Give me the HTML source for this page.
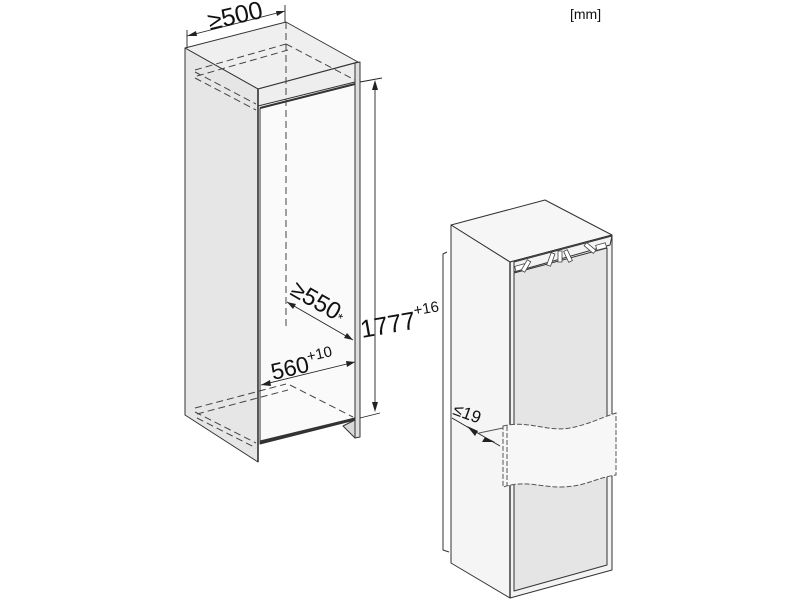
<!DOCTYPE html>
<html><head><meta charset="utf-8"><style>
html,body{margin:0;padding:0;background:#fff;width:800px;height:600px;overflow:hidden}
svg{display:block}
text{font-family:"Liberation Sans",sans-serif;fill:#111}
</style></head><body>
<svg width="800" height="600" viewBox="0 0 800 600" xmlns="http://www.w3.org/2000/svg">
<g stroke="#333" stroke-width="1" stroke-linejoin="round">
<polygon points="185,48 286,22 358,62 258,89" fill="#efefef"/>
<polygon points="185,48 258,89 258,462 185,415" fill="#e6e6e6"/>
<polygon points="355,63 360,62 360,437 355,438" fill="#dedede"/>
<polygon points="343,426 355,420 355,438" fill="#d8d8d8"/>
<polygon points="258,89 355,63 355,82 258,106" fill="#eeeeee"/>
<polygon points="260,108 355,84 355,418 260,443" fill="#fafafa"/>
<polygon points="260,441 355,418 355,420 260,444" fill="#333"/>
<line x1="258" y1="89" x2="258" y2="462" stroke-width="1.6"/>
<line x1="260" y1="108" x2="355" y2="84" stroke-width="2"/>
</g>
<g stroke="#444" stroke-width="1" stroke-dasharray="7,4" fill="none">
<line x1="286" y1="22" x2="286" y2="330"/>
<line x1="195" y1="70" x2="286" y2="44"/>
<line x1="197" y1="76" x2="288" y2="50"/>
<line x1="286" y1="44" x2="355" y2="80"/>
<line x1="195" y1="72" x2="256" y2="104"/>
<line x1="195" y1="78" x2="256" y2="110"/>
<line x1="195" y1="408" x2="286" y2="384"/>
<line x1="197" y1="414" x2="288" y2="390"/>
<line x1="290" y1="385" x2="353" y2="417"/>
<line x1="195" y1="412" x2="256" y2="443"/>
<line x1="197" y1="418" x2="256" y2="448"/>
</g>
<g stroke="#222" stroke-width="0.9" fill="none">
<line x1="187" y1="30" x2="187" y2="48"/>
<line x1="187" y1="36" x2="285" y2="11"/>
<line x1="285" y1="5" x2="285" y2="22"/>
<line x1="375" y1="82" x2="375" y2="410"/>
<line x1="360" y1="82" x2="382" y2="78"/>
<line x1="360" y1="418" x2="380" y2="413"/>
<line x1="287" y1="302" x2="353" y2="340"/>
<line x1="261" y1="385" x2="355" y2="362"/>
</g>
<g fill="#222">
<polygon points="375,80 372,90 378,90"/>
<polygon points="375,412 372,402 378,402"/>
<polygon points="187,36 196,31 197,36"/>
<polygon points="285,11 276,11 277,16"/>
<polygon points="287,302 296,304 293,309"/>
<polygon points="353,340 344,338 347,333"/>
<polygon points="261,385 270,380 271,386"/>
<polygon points="355,362 346,361 347,367"/>
</g>
<text x="0" y="0" font-size="25" transform="translate(210,30) rotate(-13)">≥500</text>
<text x="0" y="0" font-size="24" transform="translate(289,294) rotate(30)">≥550<tspan font-size="13">*</tspan></text>
<text x="0" y="0" font-size="23" transform="translate(273,380) rotate(-13)">560<tspan font-size="15" dy="-10">+10</tspan></text>
<text x="0" y="0" font-size="25" transform="translate(362,338) rotate(-10)">1777<tspan font-size="15" dy="-13">+16</tspan></text>
<text x="570" y="19" font-size="14">[mm]</text>
<g stroke="#333" stroke-width="1" stroke-linejoin="round">
<polyline points="447,252 443,254 443,550 449,552" fill="none"/>
<polygon points="451,225 545,200 612,235 510,262" fill="#f6f6f6"/>
<polygon points="451,225 510,262 510,598 451,563" fill="#f5f5f5"/>
<polygon points="510,262 612,235 612,570 510,598" fill="#f3f3f3"/>
<polygon points="514,273 607,248 607,565 514,591" fill="#e5e5e5"/>
<polygon points="514,262 612,236 610,245 514,272" fill="#f3f3f3"/>
<line x1="510" y1="262" x2="510" y2="598" stroke-width="1.4"/>
</g>
<g stroke="#444" stroke-width="0.8" fill="#fff">
<rect x="515" y="265" width="10" height="5" transform="rotate(-15 520 267)"/>
<rect x="524" y="260" width="4" height="12" transform="rotate(30 526 266)"/>
<rect x="549" y="253" width="4" height="13" transform="rotate(20 551 259)"/>
<rect x="558" y="251" width="4" height="11"/>
<rect x="566" y="250" width="4" height="12" transform="rotate(-25 568 256)"/>
<rect x="588" y="242" width="4" height="12" transform="rotate(-50 590 248)"/>
<rect x="596" y="244" width="10" height="5" transform="rotate(-15 601 246)"/>
</g>
<path d="M503,426 C530,420 545,432 570,428 C590,424 600,418 616,413 L616,475 C595,478 585,487 560,487 C540,487 525,480 503,487 Z" fill="#f7f7f7" stroke="#555" stroke-width="1" stroke-dasharray="5,2"/>
<line x1="507" y1="426" x2="507" y2="486" stroke="#555" stroke-dasharray="5,2"/>
<line x1="479" y1="433" x2="503" y2="428" stroke="#555"/>
<g stroke="#222" stroke-width="0.9">
<line x1="452" y1="418" x2="500" y2="446"/>
</g>
<polygon points="467,426 478,431 475,436" fill="#222"/>
<polygon points="495,442 485,437 482,442" fill="#222"/>
<text x="0" y="0" font-size="17" transform="translate(452,414) rotate(20)">≤19</text>
</svg>
</body></html>
